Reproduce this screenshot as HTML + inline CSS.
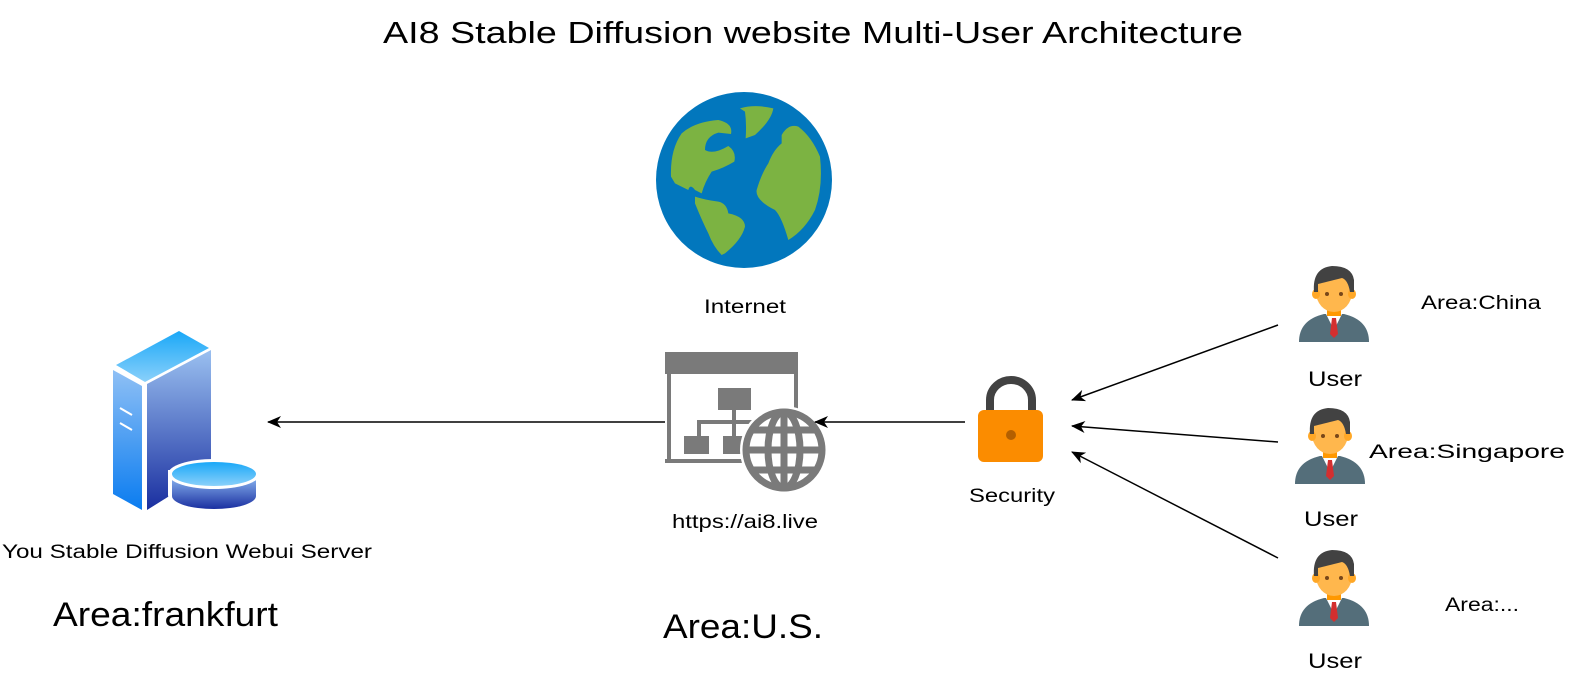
<!DOCTYPE html>
<html><head><meta charset="utf-8"><style>
html,body{margin:0;padding:0;background:#fff;}
svg{display:block;font-family:"Liberation Sans",Arial,sans-serif;}
</style></head><body>
<svg width="1572" height="680" viewBox="0 0 1572 680" xmlns="http://www.w3.org/2000/svg">
<defs>
<linearGradient id="gl" x1="0" y1="0" x2="0" y2="1"><stop offset="0" stop-color="#8fc0f5"/><stop offset="1" stop-color="#0a7cf0"/></linearGradient>
<linearGradient id="gr" x1="0" y1="0" x2="0" y2="1"><stop offset="0" stop-color="#9ac0f0"/><stop offset="1" stop-color="#1a2fa0"/></linearGradient>
<linearGradient id="gt" x1="0" y1="0" x2="0" y2="1"><stop offset="0" stop-color="#1aa8f8"/><stop offset="1" stop-color="#8ad0fa"/></linearGradient>
<linearGradient id="gd" x1="0" y1="0" x2="0" y2="1"><stop offset="0" stop-color="#7fa8e8"/><stop offset="1" stop-color="#1a2fa0"/></linearGradient>
<marker id="ar" viewBox="0 0 14 12" refX="13" refY="6" markerWidth="14" markerHeight="12" orient="auto" markerUnits="userSpaceOnUse"><path d="M14,6 L0,0 L4,6 L0,12 Z" fill="#000"/></marker>
<g id="user">
<path d="M-35,40 Q-35,18 -10,12 L10,12 Q35,18 35,40 Z" fill="#546e7a"/>
<path d="M-8,12 L0,28 L8,12 Z" fill="#fff"/>
<path d="M-2,16 L2,16 L4,32 L0,36 L-4,32 Z" fill="#d32f2f"/>
<rect x="-7" y="4" width="14" height="10" fill="#ff9800"/>
<ellipse cx="0" cy="-10" rx="18" ry="20" fill="#ffb74d"/>
<ellipse cx="-18" cy="-8" rx="4" ry="5" fill="#ffa726"/>
<ellipse cx="18" cy="-8" rx="4" ry="5" fill="#ffa726"/>
<path d="M-20,-10 Q-22,-34 -2,-36 Q18,-36 20,-22 L20,-10 L16,-10 Q14,-22 8,-24 Q-8,-20 -16,-18 L-16,-10 Z" fill="#424242"/>
<circle cx="-7" cy="-8" r="2" fill="#784719"/><circle cx="7" cy="-8" r="2" fill="#784719"/>
</g>
</defs>

<text x="383" y="43" font-size="31" textLength="860" lengthAdjust="spacingAndGlyphs">AI8 Stable Diffusion website Multi-User Architecture</text>

<!-- globe -->
<circle cx="744" cy="180" r="88" fill="#0277bd"/>
<g transform="translate(655,90) scale(0.3333)" fill="#7cb342">
<path d="M48,260 Q45,180 80,130 Q120,95 190,90 Q235,100 228,132 L190,128 Q150,140 150,180 Q175,195 220,168 Q245,185 238,215 Q205,235 170,245 Q150,275 140,310 L120,300 Q105,280 100,300 Q80,290 60,280 Z"/>
<path d="M120,320 Q150,330 190,335 Q215,340 220,370 Q270,380 270,410 Q260,450 210,490 L200,495 Q175,470 160,430 Q140,390 120,340 Z"/>
<path d="M255,55 Q300,42 355,55 Q350,90 300,135 L272,145 Q275,100 270,65 Z"/>
<path d="M380,135 Q400,100 430,110 Q470,140 495,200 Q505,290 480,360 Q450,420 400,450 Q380,380 360,360 Q300,330 305,300 Q320,250 340,220 Q355,180 380,160 Z"/>
</g>
<text x="704" y="313" font-size="19" textLength="82" lengthAdjust="spacingAndGlyphs">Internet</text>

<!-- website icon -->
<rect x="665" y="352" width="133" height="111" fill="#fff"/>
<rect x="665" y="352" width="133" height="22" fill="#7a7a7a"/>
<rect x="667" y="374" width="4" height="89" fill="#7a7a7a"/>
<rect x="794" y="374" width="4" height="60" fill="#7a7a7a"/>
<rect x="665" y="459" width="90" height="4" fill="#7a7a7a"/>
<rect x="718" y="388" width="33" height="22" fill="#7a7a7a"/>
<rect x="732" y="410" width="4" height="30" fill="#7a7a7a"/>
<rect x="697" y="420" width="60" height="4" fill="#7a7a7a"/>
<rect x="697" y="420" width="4" height="20" fill="#7a7a7a"/>
<rect x="684" y="436" width="25" height="18" fill="#7a7a7a"/>
<rect x="723" y="436" width="25" height="18" fill="#7a7a7a"/>
<circle cx="784" cy="450" r="44" fill="#fff"/>
<g fill="none" stroke="#7a7a7a" stroke-width="7">
<circle cx="784" cy="450" r="38"/>
<ellipse cx="784" cy="450" rx="16" ry="38"/>
<line x1="784" y1="412" x2="784" y2="488"/>
<path d="M752,430 H816 M748,450 H820 M752,470 H816"/>
</g>
<text x="672" y="528" font-size="19" textLength="146" lengthAdjust="spacingAndGlyphs">https://ai8.live</text>
<text x="663" y="638" font-size="34" textLength="160" lengthAdjust="spacingAndGlyphs">Area:U.S.</text>

<!-- server -->
<polygon points="116,365 179,331 209,348 145,382" fill="url(#gt)"/>
<polygon points="113,370 142,386 142,510 113,494" fill="url(#gl)"/>
<polygon points="147,384 211,350 211,470 147,510" fill="url(#gr)"/>
<line x1="120" y1="408" x2="132" y2="415" stroke="#fff" stroke-width="2"/>
<line x1="120" y1="423" x2="132" y2="430" stroke="#fff" stroke-width="2"/>
<path d="M168,470 V495 A46,15 0 0 0 260,495 V470 Z" fill="#fff"/>
<path d="M172,480 V496 A42,13 0 0 0 256,496 V480 Z" fill="url(#gd)"/>
<ellipse cx="214" cy="474" rx="46" ry="15" fill="#fff"/>
<ellipse cx="214" cy="474" rx="42" ry="12" fill="url(#gt)"/>
<text x="2" y="558" font-size="19" textLength="370" lengthAdjust="spacingAndGlyphs">You Stable Diffusion Webui Server</text>
<text x="53" y="626" font-size="34" textLength="225" lengthAdjust="spacingAndGlyphs">Area:frankfurt</text>

<!-- lock -->
<path d="M990,414 V400 A21,20 0 0 1 1032,400 V414" fill="none" stroke="#424242" stroke-width="8"/>
<rect x="978" y="410" width="65" height="52" rx="6" fill="#fb8c00"/>
<circle cx="1011" cy="435" r="5" fill="#b35f00"/>
<text x="969" y="502" font-size="19" textLength="86" lengthAdjust="spacingAndGlyphs">Security</text>

<!-- arrows -->
<line x1="665" y1="422" x2="268" y2="422" stroke="#000" stroke-width="1.5" marker-end="url(#ar)"/>
<line x1="965" y1="422" x2="815" y2="422" stroke="#000" stroke-width="1.5" marker-end="url(#ar)"/>
<line x1="1278" y1="325" x2="1072" y2="400" stroke="#000" stroke-width="1.5" marker-end="url(#ar)"/>
<line x1="1278" y1="442" x2="1072" y2="426" stroke="#000" stroke-width="1.5" marker-end="url(#ar)"/>
<line x1="1278" y1="558" x2="1072" y2="452" stroke="#000" stroke-width="1.5" marker-end="url(#ar)"/>

<!-- users -->
<use href="#user" x="1334" y="302"/>
<use href="#user" x="1330" y="444"/>
<use href="#user" x="1334" y="586"/>
<text x="1308" y="386" font-size="21" textLength="54" lengthAdjust="spacingAndGlyphs">User</text>
<text x="1304" y="526" font-size="21" textLength="54" lengthAdjust="spacingAndGlyphs">User</text>
<text x="1308" y="668" font-size="21" textLength="54" lengthAdjust="spacingAndGlyphs">User</text>
<text x="1421" y="309" font-size="19" textLength="120" lengthAdjust="spacingAndGlyphs">Area:China</text>
<text x="1369" y="458" font-size="19" textLength="196" lengthAdjust="spacingAndGlyphs">Area:Singapore</text>
<text x="1445" y="611" font-size="19" textLength="74" lengthAdjust="spacingAndGlyphs">Area:...</text>
</svg>
</body></html>
